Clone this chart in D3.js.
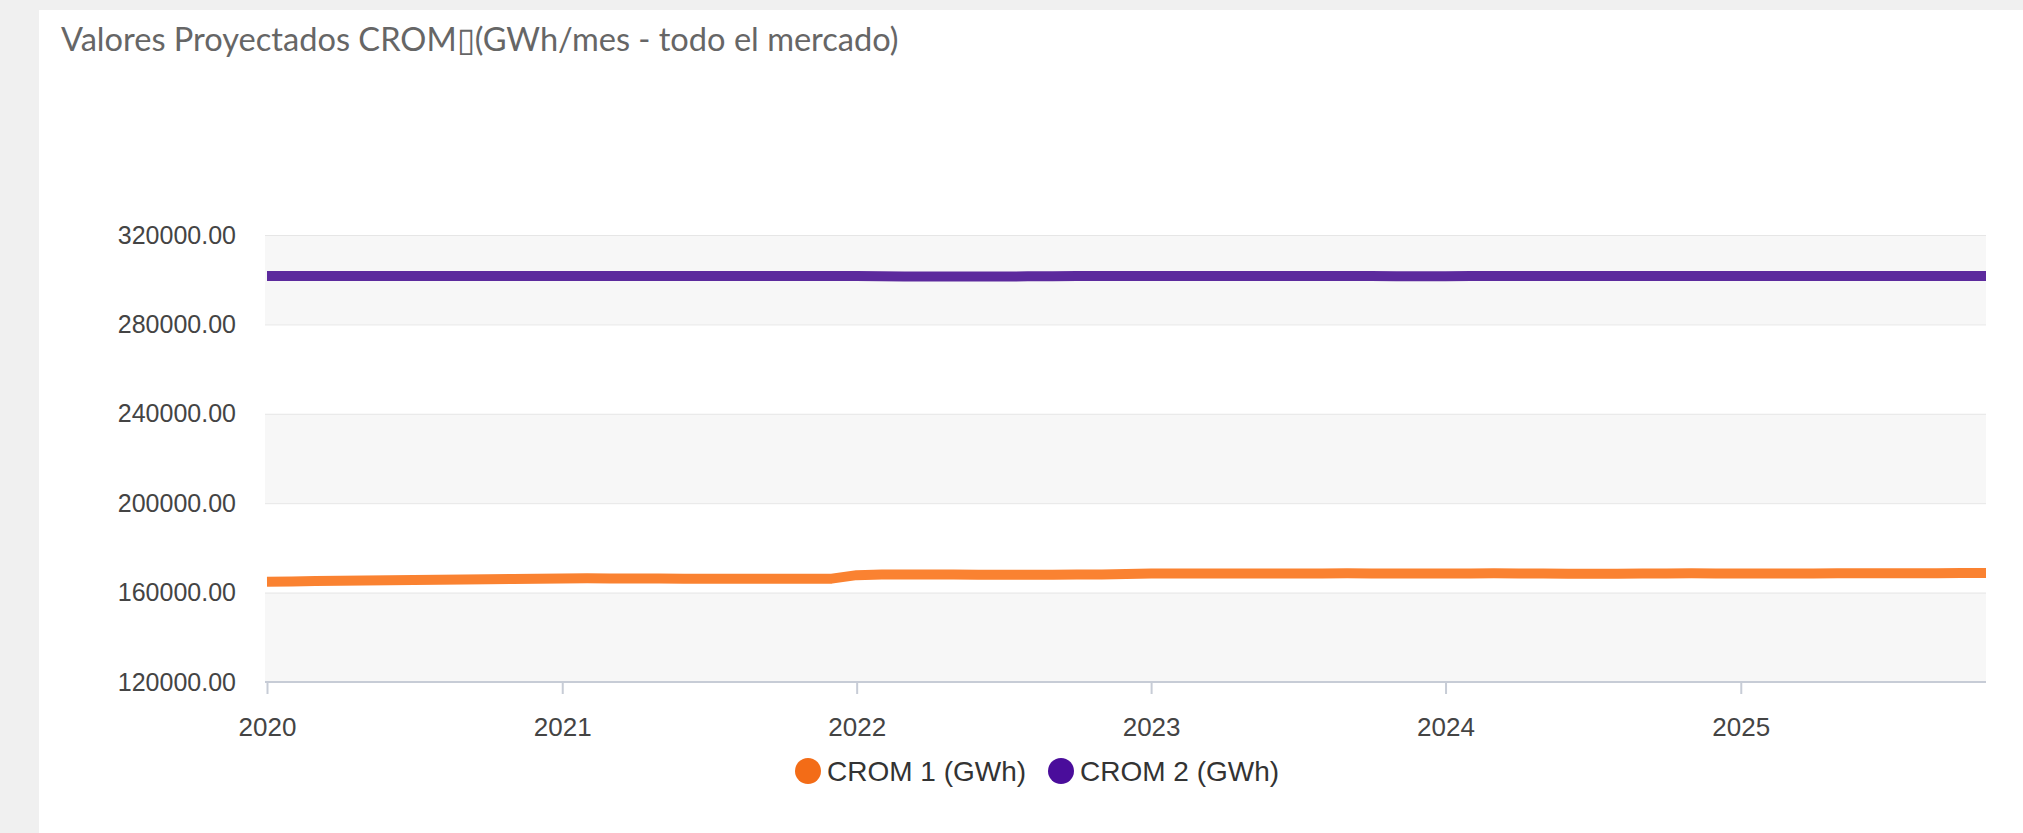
<!DOCTYPE html>
<html>
<head>
<meta charset="utf-8">
<script src="https://cdn.jsdelivr.net/npm/d3@7"></script>
<style>
  html, body { margin: 0; padding: 0; background: #f0f0f0; }
  svg { display: block; }
</style>
</head>
<body>
<svg id="chart" width="2023" height="833"></svg>
<script>
// Monthly projections, January 2020 through November 2025
const startMonth = "2020-01";
const monthCount = 71;

const crom1 = [
  164900, 165020, 165140, 165250, 165370, 165490, 165600, 165720, 165840, 165960, 166080, 166200,
  166350, 166380, 166350, 166300, 166280, 166250, 166230, 166200, 166180, 166150, 166150, 166250,
  167800, 168050, 168100, 168100, 168050, 168000, 168000, 167950, 168000, 168050, 168100, 168300,
  168500, 168550, 168600, 168600, 168550, 168500, 168550, 168600, 168650, 168600, 168550, 168500,
  168550, 168600, 168650, 168600, 168550, 168450, 168400, 168450, 168500, 168600, 168650, 168600,
  168550, 168500, 168550, 168600, 168650, 168700, 168700, 168650, 168700, 168750, 168800
];

const crom2 = [
  301700, 301700, 301700, 301700, 301700, 301700, 301700, 301700, 301700, 301700, 301700, 301700,
  301700, 301700, 301700, 301700, 301700, 301700, 301700, 301700, 301700, 301700, 301700, 301650,
  301600, 301500, 301450, 301400, 301400, 301450, 301450, 301500, 301550, 301600, 301650, 301700,
  301700, 301700, 301700, 301700, 301700, 301700, 301700, 301700, 301650, 301600, 301550, 301550,
  301550, 301600, 301600, 301650, 301650, 301650, 301650, 301650, 301650, 301650, 301650, 301650,
  301650, 301650, 301650, 301650, 301650, 301650, 301650, 301650, 301650, 301650, 301650
];

const seriesNames = ["CROM 1 (GWh)", "CROM 2 (GWh)"];
const lineColors = ["#fa8231", "#5c2a9d"];
const legendColors = ["#f36c17", "#4a0d9b"];

const yTicks = [120000, 160000, 200000, 240000, 280000, 320000];
const xTickYears = [2020, 2021, 2022, 2023, 2024, 2025];

const title = "Valores Proyectados CROM\u25AF(GWh/mes - todo el mercado)";

// ---- layout ----
const W = 2023, H = 833;
const plot = { left: 265, right: 1986, top: 235, bottom: 682 };

const svg = d3.select("#chart");

// white card
svg.append("rect")
  .attr("x", 39).attr("y", 10)
  .attr("width", W - 39).attr("height", H - 10)
  .attr("fill", "#ffffff");

svg.append("text")
  .attr("x", 61).attr("y", 51)
  .attr("font-family", "Lato, 'Open Sans', sans-serif")
  .attr("font-size", 32.6)
  .attr("fill", "#666666")
  .text(title);

const t0 = d3.timeParse("%Y-%m")(startMonth);
const dates = d3.range(monthCount).map(i => d3.timeMonth.offset(t0, i));

const x = d3.scaleTime()
  .domain([dates[0], dates[dates.length - 1]])
  .range([plot.left + 2, plot.right]);

const y = d3.scaleLinear()
  .domain([yTicks[0], yTicks[yTicks.length - 1]])
  .range([plot.bottom, plot.top]);

// alternating horizontal bands
const bands = [];
for (let i = 0; i < yTicks.length - 1; i += 2) bands.push([yTicks[i], yTicks[i + 1]]);
svg.append("g").selectAll("rect").data(bands).join("rect")
  .attr("x", plot.left)
  .attr("width", plot.right - plot.left)
  .attr("y", d => y(d[1]))
  .attr("height", d => y(d[0]) - y(d[1]))
  .attr("fill", "#f7f7f7");

// y axis: gridlines + labels
const yAxis = d3.axisLeft(y)
  .tickValues(yTicks)
  .tickSize(-(plot.right - plot.left))
  .tickPadding(29)
  .tickFormat(d3.format(".2f"));

const gy = svg.append("g")
  .attr("transform", `translate(${plot.left},0)`)
  .call(yAxis);
gy.select(".domain").remove();
gy.selectAll(".tick line").attr("stroke", "#e6e6e6").attr("stroke-width", 1);
gy.selectAll(".tick text")
  .attr("font-family", "'Liberation Sans', Arial, sans-serif")
  .attr("font-size", 25)
  .attr("fill", "#444444");

// x axis
const xAxis = d3.axisBottom(x)
  .tickValues(xTickYears.map(yr => new Date(yr, 0, 1)))
  .tickSize(12)
  .tickPadding(24)
  .tickFormat(d3.timeFormat("%Y"));

const gx = svg.append("g")
  .attr("transform", `translate(0,${plot.bottom})`)
  .call(xAxis);
gx.select(".domain")
  .attr("d", `M${plot.left},0H${plot.right}`)
  .attr("stroke", "#c7ccd6")
  .attr("stroke-width", 2);
gx.selectAll(".tick line").attr("stroke", "#c7ccd6").attr("stroke-width", 2);
gx.selectAll(".tick text")
  .attr("font-family", "'Liberation Sans', Arial, sans-serif")
  .attr("font-size", 26)
  .attr("fill", "#444444");

// series lines
const line = d3.line()
  .x((d, i) => x(dates[i]))
  .y(d => y(d));

[crom1, crom2].forEach((vals, k) => {
  svg.append("path")
    .datum(vals)
    .attr("d", line)
    .attr("fill", "none")
    .attr("stroke", lineColors[k])
    .attr("stroke-width", 10)
    .attr("stroke-linejoin", "round")
    .attr("stroke-linecap", "butt");
});

// legend
const legend = svg.append("g").attr("transform", "translate(808,771)");
const items = legend.selectAll("g").data(seriesNames).join("g")
  .attr("transform", (d, i) => `translate(${i * 253},0)`);
items.append("circle")
  .attr("r", 13)
  .attr("fill", (d, i) => legendColors[i]);
items.append("text")
  .attr("x", 19)
  .attr("dy", "0.35em")
  .attr("font-family", "'Liberation Sans', Arial, sans-serif")
  .attr("font-size", 28)
  .attr("fill", "#333333")
  .text(d => d);
</script>
</body>
</html>
